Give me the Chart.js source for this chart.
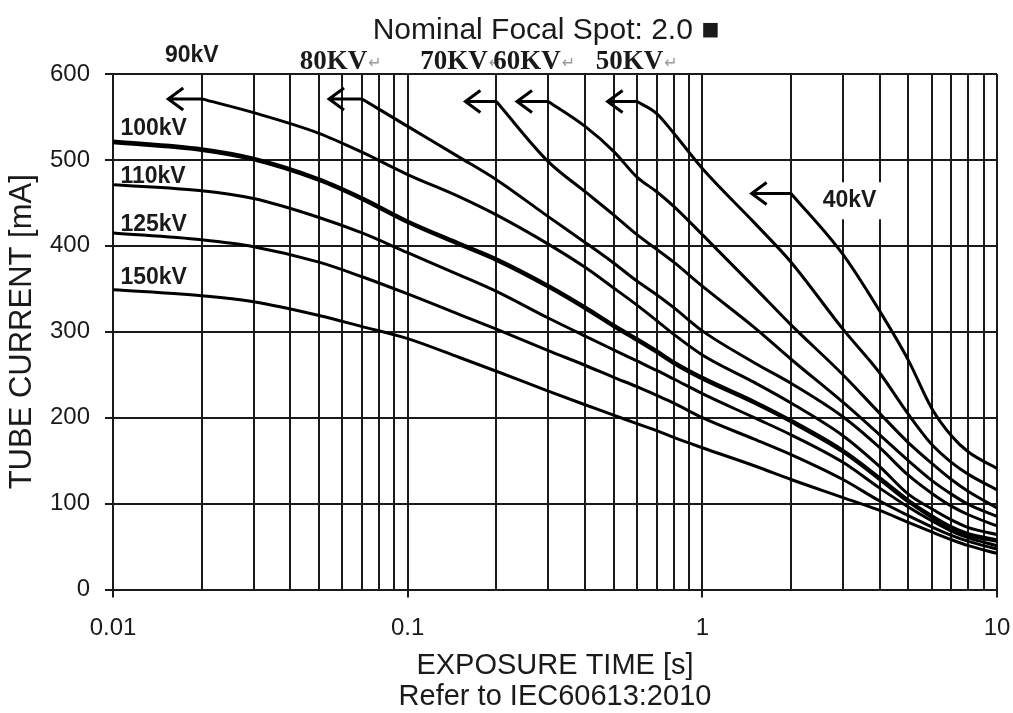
<!DOCTYPE html>
<html>
<head>
<meta charset="utf-8">
<script src="https://cdn.jsdelivr.net/npm/chart.js@4.4.1/dist/chart.umd.min.js"></script>
<style>
  html, body { margin: 0; padding: 0; background: #fff; }
</style>
</head>
<body>
<canvas id="chart" width="1013" height="713"></canvas>
<script>
// exposure times [s] shared by every curve (null = curve not started yet)
const times = [0.01, 0.02, 0.03, 0.05, 0.07, 0.1, 0.15, 0.2, 0.3, 0.4, 0.5, 0.6, 0.7, 0.8, 1, 1.5, 2, 3, 4, 5, 6, 7, 8, 10];

// tube current [mA]
const kv150 = [349, 342, 335, 319, 306, 292, 270, 254, 231, 215, 203, 193, 185, 177, 165, 144, 128, 107, 92, 78, 67, 58, 51, 42];
const kv125 = [415, 407, 399, 381, 364, 344, 320, 303, 278, 261, 247, 236, 226, 217, 200, 175, 157, 128, 103, 86, 73, 63, 56, 47];
const kv110 = [471, 464, 455, 433, 415, 392, 366, 347, 316, 295, 279, 266, 255, 245, 228, 200, 180, 148, 118, 96, 80, 68, 60, 51];
const kv100 = [521, 512, 501, 477, 455, 428, 402, 384, 353, 328, 307, 291, 277, 264, 246, 218, 196, 161, 129, 103, 85, 72, 64, 57];
const kv90 = [null, 571, 555, 531, 509, 483, 457, 436, 402, 375, 351, 331, 313, 297, 273, 241, 217, 179, 143, 111, 94, 81, 72, 64];
const kv80 = [null, null, null, null, 571, 539, 503, 477, 434, 404, 380, 359, 343, 328, 301, 264, 240, 201, 165, 133, 112, 97, 87, 74];
const kv70 = [null, null, null, null, null, null, null, 568, 498, 463, 436, 413, 396, 381, 353, 305, 268, 218, 180, 150, 127, 111, 99, 85];
const kv60 = [null, null, null, null, null, null, null, null, 568, 539, 510, 480, 463, 446, 413, 352, 308, 250, 205, 171, 147, 128, 114, 95];
const kv50 = [null, null, null, null, null, null, null, null, null, null, null, 568, 554, 531, 490, 427, 381, 303, 252, 204, 169, 148, 134, 116];
const kv40 = [null, null, null, null, null, null, null, null, null, null, null, null, null, null, null, null, 461, 390, 324, 267, 211, 179, 160, 141];

// log grid: 1..9 per decade, labels only on decades
const xGridValues = [0.01, 0.02, 0.03, 0.04, 0.05, 0.06, 0.07, 0.08, 0.09,
  0.1, 0.2, 0.3, 0.4, 0.5, 0.6, 0.7, 0.8, 0.9,
  1, 2, 3, 4, 5, 6, 7, 8, 9, 10];
const xLabelValues = [0.01, 0.1, 1, 10];

// where the "limit" arrows of each curve point to (exposure time)
const arrowSeries = ['90kV', '80kV', '70kV', '60kV', '50kV', '40kV'];
const arrowTips = [0.0154, 0.0541, 0.157, 0.235, 0.477, 1.47];

const INK = '#1a1a1a';
const SANS = "'Liberation Sans', Arial, sans-serif";

const series = [
  { label: '40kV', values: kv40 },
  { label: '50kV', values: kv50 },
  { label: '60kV', values: kv60 },
  { label: '70kV', values: kv70 },
  { label: '80kV', values: kv80 },
  { label: '90kV', values: kv90 },
  { label: '100kV', values: kv100 },
  { label: '110kV', values: kv110 },
  { label: '125kV', values: kv125 },
  { label: '150kV', values: kv150 },
];

// curve names written on the chart, anchored in data units (time, mA), left aligned
const sansLabels = [
  { text: '90kV', t: 0.0150, mA: 621 },
  { text: '100kV', t: 0.0106, mA: 536 },
  { text: '110kV', t: 0.0106, mA: 481 },
  { text: '125kV', t: 0.0106, mA: 425 },
  { text: '150kV', t: 0.0106, mA: 363 },
  { text: '40kV', t: 2.56, mA: 453, boxed: true },
];
const serifLabels = [
  { text: '80KV', t: 0.0430, mA: 614 },
  { text: '70KV', t: 0.1103, mA: 614 },
  { text: '60KV', t: 0.195, mA: 614 },
  { text: '50KV', t: 0.4348, mA: 614 },
];

const annotate = {
  id: 'annotate',
  afterDatasetsDraw(chart) {
    const { ctx, scales: { x, y } } = chart;
    ctx.save();

    // arrows from the start of each short curve
    ctx.strokeStyle = '#000';
    ctx.lineWidth = 3;
    arrowSeries.forEach((name, i) => {
      const ds = chart.data.datasets.find(d => d.label === name);
      const p0 = ds.data[0];
      const x0 = x.getPixelForValue(p0.x);
      const y0 = y.getPixelForValue(p0.y);
      const x1 = x.getPixelForValue(arrowTips[i]);
      ctx.beginPath();
      ctx.moveTo(x0, y0);
      ctx.lineTo(x1, y0);
      ctx.moveTo(x1 + 15, y0 - 11);
      ctx.lineTo(x1, y0);
      ctx.lineTo(x1 + 15, y0 + 11);
      ctx.stroke();
    });

    // bold sans curve labels
    ctx.textBaseline = 'middle';
    ctx.textAlign = 'left';
    ctx.font = 'bold 23px ' + SANS;
    sansLabels.forEach(l => {
      const px = x.getPixelForValue(l.t);
      const py = y.getPixelForValue(l.mA);
      if (l.boxed) {
        const w = ctx.measureText(l.text).width;
        ctx.fillStyle = '#fff';
        ctx.fillRect(px - 6, py - 18, w + 12, 37);
      }
      ctx.fillStyle = INK;
      ctx.fillText(l.text, px, py);
    });

    // serif labels with the stray return marks
    serifLabels.forEach(l => {
      const px = x.getPixelForValue(l.t);
      const py = y.getPixelForValue(l.mA);
      ctx.font = "bold 27px 'Liberation Serif', 'Times New Roman', serif";
      ctx.fillStyle = INK;
      ctx.fillText(l.text, px, py);
      const w = ctx.measureText(l.text).width;
      ctx.font = "16px 'DejaVu Sans', sans-serif";
      ctx.fillStyle = '#9a9a9a';
      ctx.fillText('\u21B5', px + w + 1, py + 2);
    });

    // chart title
    ctx.font = '30px ' + SANS;
    ctx.fillStyle = INK;
    ctx.textAlign = 'center';
    ctx.fillText('Nominal Focal Spot: 2.0 \u25A0', 546, 31);

    ctx.restore();
  }
};

new Chart(document.getElementById('chart'), {
  type: 'line',
  data: {
    datasets: series.map(s => ({
      label: s.label,
      data: times.map((t, i) => ({ x: t, y: s.values[i] })).filter(p => p.y !== null),
      borderColor: '#000',
      borderWidth: s.label === '100kV' ? 4.6 : 3,
      pointRadius: 0,
      fill: false,
      cubicInterpolationMode: 'monotone',
    })),
  },
  options: {
    responsive: false,
    devicePixelRatio: 1,
    animation: false,
    layout: { padding: { top: 74, right: 16, bottom: 0, left: 0 } },
    plugins: { legend: { display: false }, tooltip: { enabled: false }, title: { display: false } },
    scales: {
      x: {
        type: 'logarithmic',
        min: 0.01,
        max: 10,
        afterBuildTicks: (scale) => { scale.ticks = xGridValues.map(v => ({ value: v })); },
        afterFit: (scale) => {
          scale.height = 123.5;
          // the outer labels fit inside the padding already
          scale.paddingLeft = 0;
          scale.paddingRight = 0;
        },
        ticks: {
          autoSkip: false, maxRotation: 0, padding: 16, color: INK,
          font: { family: SANS, size: 24 },
          callback: (v) => xLabelValues.includes(v) ? String(v) : '',
        },
        grid: {
          color: INK, lineWidth: 2, tickLength: 8,
          tickColor: (c) => (c.tick && xLabelValues.includes(c.tick.value)) ? INK : 'rgba(0,0,0,0)',
        },
        border: { color: INK, width: 2 },
        title: {
          display: true, color: INK, padding: 0,
          text: ['EXPOSURE TIME [s]', 'Refer to IEC60613:2010'],
          font: { family: SANS, size: 29, lineHeight: 1.07 },
        },
      },
      y: {
        min: 0,
        max: 600,
        afterFit: (scale) => { scale.width = 113; },
        ticks: { stepSize: 100, padding: 15, color: INK, font: { family: SANS, size: 24 } },
        grid: { color: INK, lineWidth: 2, tickLength: 8 },
        border: { color: INK, width: 2 },
        title: {
          display: true, color: INK, text: 'TUBE CURRENT [mA]',
          padding: { top: 4, bottom: 0 },
          font: { family: SANS, size: 31 },
        },
      },
    },
  },
  plugins: [annotate],
});
</script>
</body>
</html>
